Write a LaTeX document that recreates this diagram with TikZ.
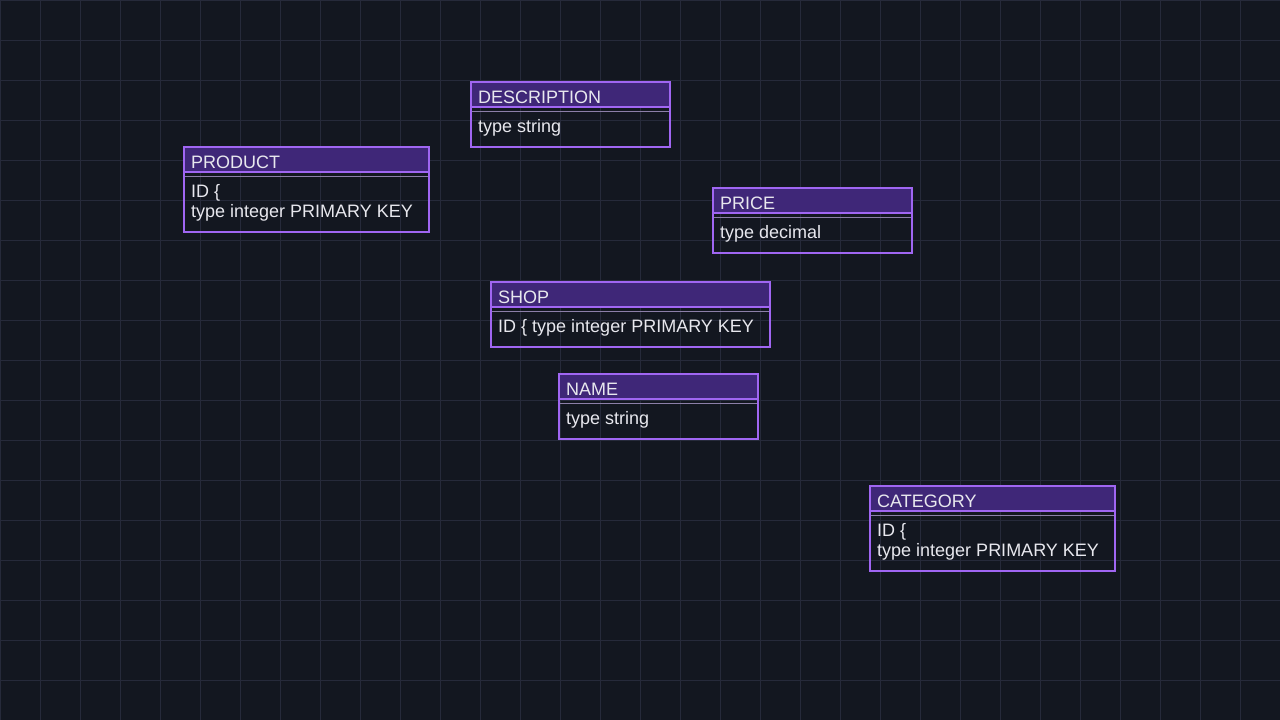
\documentclass[tikz,border=0pt]{standalone}
\usepackage{fontspec}
\setmainfont{Liberation Sans}
\definecolor{bgcol}{HTML}{131720}
\definecolor{gridcol}{HTML}{262A3A}
\definecolor{edgecol}{HTML}{A066F2}
\definecolor{headcol}{HTML}{3F2778}
\definecolor{rulecol}{HTML}{8C7FA8}
\definecolor{txtcol}{HTML}{E8E8EE}
\tikzset{
  x=1pt, y=-1pt,
  frame/.style={draw=edgecol, line width=2pt, inner sep=0pt, outer sep=0pt, anchor=north west},
  headrule/.style={draw=edgecol, line width=2pt},
  thinrule/.style={draw=rulecol, line width=0.8pt},
  titletext/.style={text=txtcol, font=\fontsize{18}{20}\selectfont, inner sep=0pt, anchor=base west},
  bodytext/.style={text=txtcol, font=\fontsize{18}{20}\selectfont, inner sep=0pt, anchor=base west},
}
% entity box: name, x, y, width, height, title, first body line, second body line
\newcommand\erbox[8]{%
  \node[frame, minimum width=#4pt, minimum height=#5pt] (#1) at (#2,#3) {};
  \fill[headcol] (#1.north west) rectangle ([yshift=-25pt]#1.north east);
  \draw[headrule] ([yshift=-25pt]#1.north west) -- ([yshift=-25pt]#1.north east);
  \draw[thinrule] ([yshift=-29pt]#1.north west) -- ([yshift=-29pt]#1.north east);
  \draw[draw=edgecol, line width=2pt] (#1.north west) rectangle (#1.south east);
  \node[titletext] (#1-title) at ([xshift=7pt,yshift=-21pt]#1.north west) {#6};
  \node[bodytext] (#1-line1) at ([xshift=7pt,yshift=-50pt]#1.north west) {#7};
  \node[bodytext] (#1-line2) at ([xshift=7pt,yshift=-70pt]#1.north west) {#8};
}
\begin{document}
\begin{tikzpicture}
  \fill[bgcol] (0,0) rectangle (1280,720);
  \useasboundingbox (0,0) rectangle (1280,720);
  % background grid
  \foreach \gx in {0,40,...,1280} \draw[gridcol, line width=1pt] (\gx,0) -- (\gx,720);
  \foreach \gy in {0,40,...,720} \draw[gridcol, line width=1pt] (0,\gy) -- (1280,\gy);
  % tables
  \erbox{description}{471}{82}{199}{65}{DESCRIPTION}{type string}{}
  \erbox{product}{184}{147}{245}{85}{PRODUCT}{ID \{}{type integer PRIMARY KEY}
  \erbox{price}{713}{188}{199}{65}{PRICE}{type decimal}{}
  \erbox{shop}{491}{282}{279}{65}{SHOP}{ID \{ type integer PRIMARY KEY}{}
  \erbox{name}{559}{374}{199}{65}{NAME}{type string}{}
  \erbox{category}{870}{486}{245}{85}{CATEGORY}{ID \{}{type integer PRIMARY KEY}
\end{tikzpicture}
\end{document}
